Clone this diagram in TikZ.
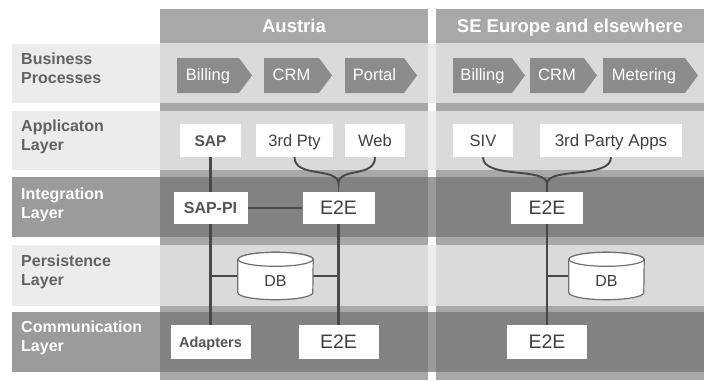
\documentclass[tikz,border=0pt]{standalone}
\usepackage{fontspec}
\setmainfont{Liberation Sans}
\usetikzlibrary{calc}
\definecolor{lblL}{HTML}{ECECEC}
\definecolor{lblD}{HTML}{9B9B9B}
\definecolor{colbase}{HTML}{A8A8A8}
\definecolor{colL}{HTML}{DADADA}
\definecolor{colD}{HTML}{828282}
\definecolor{chev}{HTML}{8C8C8C}
\definecolor{txt}{HTML}{404040}
\definecolor{txtb}{HTML}{545454}
\definecolor{lbltxt}{HTML}{626262}
\definecolor{conn}{HTML}{484848}
\definecolor{dbline}{HTML}{707070}
\begin{document}
\begin{tikzpicture}[x=1pt,y=-1pt,
  hdr/.style={anchor=base,inner sep=0pt,text=white,font=\fontsize{18.5}{21}\selectfont\bfseries},
  rowlblL/.style={anchor=base west,inner sep=0pt,text=lbltxt,font=\fontsize{16}{19}\selectfont\bfseries},
  rowlblD/.style={anchor=base west,inner sep=0pt,text=white,font=\fontsize{16}{19}\selectfont\bfseries},
  chevtxt/.style={anchor=base,inner sep=0pt,text=white,font=\fontsize{16.5}{19}\selectfont},
  wbox/.style={fill=white,inner sep=0pt,text=txt,text height=11.8pt,text depth=0pt,font=\fontsize{16.5}{19}\selectfont},
  boldbox/.style={wbox,text=txtb},
  cn/.style={draw=conn,line width=2.1pt},
  brace/.style={draw=conn,line width=1.9pt},
  dbnode/.style={inner sep=0pt,minimum width=75pt,minimum height=47pt,text height=20.4pt,text depth=0pt,text=txt,font=\fontsize{16}{19}\selectfont},
  dbshape/.style={fill=white,draw=dbline,line width=1.2pt}
]
\useasboundingbox (0,0) rectangle (706,380);
\fill[white] (0,0) rectangle (706,380);

% row strips
\fill[lblL] (12,44) rectangle (704,103);
\fill[lblL] (12,111) rectangle (704,170);
\fill[lblD] (12,177) rectangle (704,237);
\fill[lblL] (12,245) rectangle (704,306);
\fill[lblD] (12,312) rectangle (704,372);

% columns
\foreach \xa/\xb in {160/428, 436/704}{
  \fill[colbase] (\xa,9) rectangle (\xb,380);
  \fill[colL] (\xa,43) rectangle (\xb,103);
  \fill[colL] (\xa,111) rectangle (\xb,170);
  \fill[colD] (\xa,177) rectangle (\xb,237);
  \fill[colL] (\xa,245) rectangle (\xb,306);
  \fill[colD] (\xa,312) rectangle (\xb,372);
}

% headers
\node[hdr] (hA) at (294,32) {Austria};
\node[hdr] (hS) at (570,32) {SE Europe and elsewhere};

% row labels
\node[rowlblL] (l1a) at (21,64.5) {Business};
\node[rowlblL] (l1b) at (21,83.5) {Processes};
\node[rowlblL] (l2a) at (21,131.5) {Applicaton};
\node[rowlblL] (l2b) at (21,150.5) {Layer};
\node[rowlblD] (l3a) at (21,199.5) {Integration};
\node[rowlblD] (l3b) at (21,218.5) {Layer};
\node[rowlblL] (l4a) at (21,266) {Persistence};
\node[rowlblL] (l4b) at (21,285) {Layer};
\node[rowlblD] (l5a) at (21,332.5) {Communication};
\node[rowlblD] (l5b) at (21,351.5) {Layer};

% chevrons
\foreach \a/\b/\t/\n in {177/239/Billing/cA1, 264/319/CRM/cA2, 345/404/Portal/cA3,
                          453/512/Billing/cS1, 530/584/CRM/cS2, 603/685/Metering/cS3}{
  \fill[chev] (\a,58) -- (\b,58) -- (\b+13,75.5) -- (\b,93) -- (\a,93) -- cycle;
  \node[chevtxt] (\n) at ({(\a+\b)/2},80) {\t};
}

% application layer
\node[boldbox,minimum width=61pt,minimum height=33pt,font=\fontsize{15.5}{19}\selectfont\bfseries] (sap) at (210.5,140.5) {SAP};
\node[wbox,minimum width=77pt,minimum height=33pt] (pty) at (294.5,140.5) {3rd Pty};
\node[wbox,minimum width=60pt,minimum height=33pt] (web) at (375,140.5) {Web};
\node[wbox,minimum width=60pt,minimum height=33pt] (siv) at (483,140.5) {SIV};
\node[wbox,minimum width=142pt,minimum height=33pt,font=\fontsize{17}{19}\selectfont] (apps) at (611,140.5) {3rd Party Apps};

% integration layer
\node[boldbox,minimum width=74pt,minimum height=32pt,font=\fontsize{16}{19}\selectfont\bfseries] (sappi) at (210.5,208) {SAP-PI};
\node[wbox,minimum width=72pt,minimum height=32pt,text height=13.9pt,font=\fontsize{19.5}{22}\selectfont] (e2eAi) at (338.5,208) {E2E};
\node[wbox,minimum width=72pt,minimum height=32pt,text height=13.9pt,font=\fontsize{19.5}{22}\selectfont] (e2eSi) at (547,208) {E2E};

% communication layer
\node[boldbox,minimum width=80pt,minimum height=34pt,text height=10.5pt,font=\fontsize{14.5}{17}\selectfont\bfseries] (adapt) at (210.5,342) {Adapters};
\node[wbox,minimum width=80pt,minimum height=34pt,text height=13.9pt,font=\fontsize{19.5}{22}\selectfont] (e2eAc) at (338.5,342) {E2E};
\node[wbox,minimum width=80pt,minimum height=34pt,text height=13.9pt,font=\fontsize{19.5}{22}\selectfont] (e2eSc) at (547,342) {E2E};

% DB nodes
\node[dbnode] (dbA) at (275.5,276) {};
\node[dbnode] (dbS) at (606.5,276) {};

% connectors
\draw[cn] (sap.south) -- (sappi.north);
\draw[cn] (sappi.south) -- (adapt.north);
\draw[cn] (sappi.east) -- (e2eAi.west);
\draw[cn] (e2eAi.south) -- (e2eAc.north);
\draw[cn] (e2eSi.south) -- (e2eSc.north);
\draw[cn] (dbA.west) -- (dbA.west -| sappi.south);
\draw[cn] (dbA.east) -- (dbA.east -| e2eAi.south);
\draw[cn] (dbS.west) -- (dbS.west -| e2eSi.south);

% braces
\coordinate (tipA) at ($(e2eAi.north)+(0,-8)$);
\coordinate (tipS) at ($(e2eSi.north)+(0,-8)$);
\draw[brace] (pty.south) .. controls +(0,21) and +(0,-17) .. (tipA) .. controls +(0,-17) and +(0,21) .. (web.south);
\draw[brace] (tipA) -- (e2eAi.north);
\draw[brace] (siv.south) .. controls +(0,22) and +(0,-17) .. (tipS) .. controls +(0,-17) and +(0,22) .. (apps.south);
\draw[brace] (tipS) -- (e2eSi.north);

% DB cylinders
\foreach \d in {dbA,dbS}{
  \path[dbshape] ($(\d.north west)+(0,7)$) -- ($(\d.south west)+(0,-7)$)
     arc[start angle=180,end angle=360,x radius=37.5pt,y radius=7pt]
     -- ($(\d.north east)+(0,7)$)
     arc[start angle=0,end angle=180,x radius=37.5pt,y radius=7pt] -- cycle;
  \draw[dbshape] ($(\d.north)+(0,7)$) ellipse [x radius=37.5pt,y radius=7pt];
  \node[dbnode] at (\d) {DB};
}
\end{tikzpicture}
\end{document}
